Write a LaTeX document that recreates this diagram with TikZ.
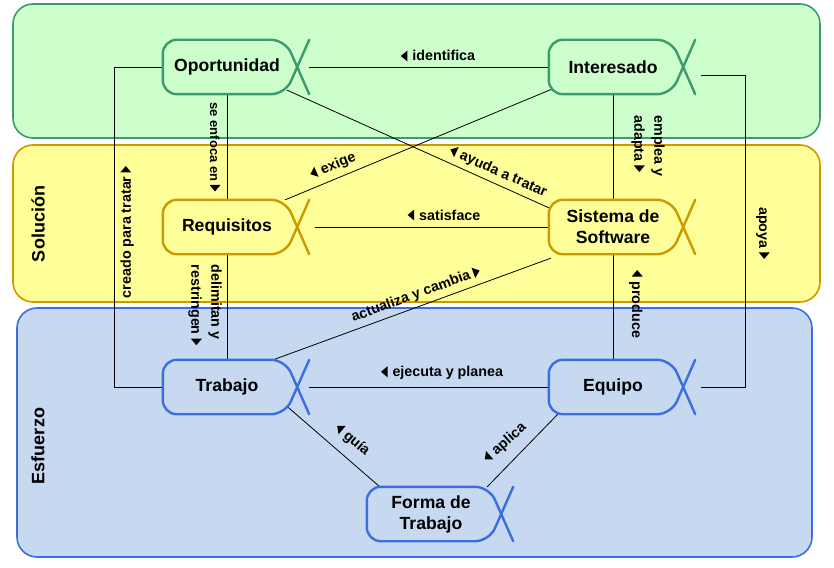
\documentclass[tikz,border=0pt]{standalone}
\usepackage{fontspec}
\setmainfont{Liberation Sans}
\usetikzlibrary{calc}
\definecolor{gfill}{HTML}{CCFFCC}
\definecolor{gline}{HTML}{3D9A6C}
\definecolor{yfill}{HTML}{FFFF99}
\definecolor{yline}{HTML}{CC9900}
\definecolor{bfill}{HTML}{C6D9F1}
\definecolor{bline}{HTML}{3B6FDF}
\newcommand\trL{\tikz[baseline={(0pt,-5pt)}]\fill (0pt,0pt) -- (6.5pt,5.5pt) -- (6.5pt,-5.5pt) -- cycle;}
\newcommand\trR{\tikz[baseline={(0pt,-5pt)}]\fill (0pt,5.5pt) -- (6.5pt,0pt) -- (0pt,-5.5pt) -- cycle;}
\newcommand\alphashape[2]{%
  \draw[#2, line width=2.4pt, rounded corners=14pt]
    ([xshift=6pt]#1.east) -- ([xshift=-6pt]#1.north east) -- (#1.north west)
    -- (#1.south west) -- ([xshift=-6pt]#1.south east) -- ([xshift=6pt]#1.east);
  \draw[#2, line width=2.4pt, line cap=round] ([xshift=6pt]#1.east) -- ([xshift=18pt]#1.north east);
  \draw[#2, line width=2.4pt, line cap=round] ([xshift=6pt]#1.east) -- ([xshift=18pt]#1.south east);
}
\tikzset{
  band/.style={rounded corners=20pt, line width=1.6pt},
  alphanode/.style={minimum width=128pt, minimum height=54pt, inner sep=0pt, align=center,
    font=\fontsize{17.6}{21}\selectfont\bfseries},
  lbl/.style={font=\fontsize{14.3}{20}\selectfont\bfseries, inner sep=0pt, align=left},
  conn/.style={line width=0.8pt, black},
  blabel/.style={font=\fontsize{18}{20}\selectfont\bfseries, rotate=90}
}
\begin{document}
\begin{tikzpicture}[x=1pt,y=-1pt]
\useasboundingbox (0,0) rectangle (834,567);
% bands
\draw[band, fill=gfill, draw=gline] (13,4) rectangle (820,138);
\draw[band, fill=yfill, draw=yline] (13,145) rectangle (820,302);
\draw[band, fill=bfill, draw=bline] (17,308) rectangle (812,557);
\node[blabel] (lsol) at (38,224) {Solución};
\node[blabel] (lesf) at (38,446) {Esfuerzo};
% alpha nodes
\node[alphanode] (opo) at (227,67) {Oportunidad};
\node[alphanode] (int) at (613,67) {Interesado};
\node[alphanode] (req) at (227,227) {Requisitos};
\node[alphanode] (sis) at (613,227) {Sistema de\\Software};
\node[alphanode] (trab) at (227,387) {Trabajo};
\node[alphanode] (equ) at (613,387) {Equipo};
\node[alphanode] (forma) at (431,514) {Forma de\\Trabajo};
% connectors
\draw[conn] ([xshift=18pt]opo.east) -- (int.west);
\draw[conn] (opo.south) -- (req.north);
\draw[conn] (req.south) -- (trab.north);
\draw[conn] (opo.west) -- ([xshift=-48pt]opo.west) |- (trab.west);
\draw[conn] ($([xshift=6pt]opo.east)!0.85!([xshift=-6pt]opo.south east)$) -- ([yshift=-8pt]sis.north west);
\draw[conn] ([shift={(3pt,5pt)}]int.south west) -- ([xshift=-6pt]req.north east);
\draw[conn] ([xshift=24pt]req.east) -- (sis.west);
\draw[conn] (int.south) -- (sis.north);
\draw[conn] (sis.south) -- (equ.north);
\draw[conn] ([shift={(24pt,-8pt)}]int.east) -- ([shift={(68pt,-8pt)}]int.east) |- ([xshift=24pt]equ.east);
\draw[conn] ([xshift=-18pt]trab.north east) -- ([shift={(2pt,-4pt)}]sis.south west);
\draw[conn] ([xshift=18pt]trab.east) -- (equ.west);
\draw[conn] ($([xshift=6pt]trab.east)!0.75!([xshift=-6pt]trab.south east)$) -- ([xshift=13pt]forma.north west);
\draw[conn] ([xshift=9pt]equ.south west) -- ([xshift=-8pt]forma.north east);
% alpha outlines
\alphashape{opo}{gline}
\alphashape{int}{gline}
\alphashape{req}{yline}
\alphashape{sis}{yline}
\alphashape{trab}{bline}
\alphashape{equ}{bline}
\alphashape{forma}{bline}
% labels
\node[lbl] (l1) at (438,56) {\trL\hspace{5pt}identifica};
\node[lbl, rotate=-90, font=\fontsize{13}{20}\selectfont\bfseries] (l2) at (215,147) {se enfoca en \trR};
\node[lbl, rotate=90] (l3) at (127,232) {creado para tratar \trR};
\node[lbl, rotate=-90] (l4) at (205,305) {delimitan y\\restringen \trR};
\node[lbl, rotate=-90] (l5) at (648,146) {emplea y\\adapta \trR};
\node[lbl, rotate=-90] (l6) at (636,304) {\trL\hspace{5pt}produce};
\node[lbl, rotate=-90] (l7) at (763,233) {apoya \trR};
\node[lbl, rotate=23] (l8) at (333,166) {\trL\hspace{5pt}exige};
\node[lbl, rotate=-24] (l9) at (498,172) {\trL\hspace{5pt}ayuda a tratar};
\node[lbl, rotate=20] (l10) at (416,295) {actualiza y cambia \trR};
\node[lbl] (l11) at (444,215) {\trL\hspace{5pt}satisface};
\node[lbl] (l12) at (442,373) {\trL\hspace{5pt}ejecuta y planea};
\node[lbl, rotate=-40] (l13) at (352,440) {\trL\hspace{5pt}guía};
\node[lbl, rotate=42] (l14) at (505,443) {\trL\hspace{5pt}aplica};
\end{tikzpicture}
\end{document}
